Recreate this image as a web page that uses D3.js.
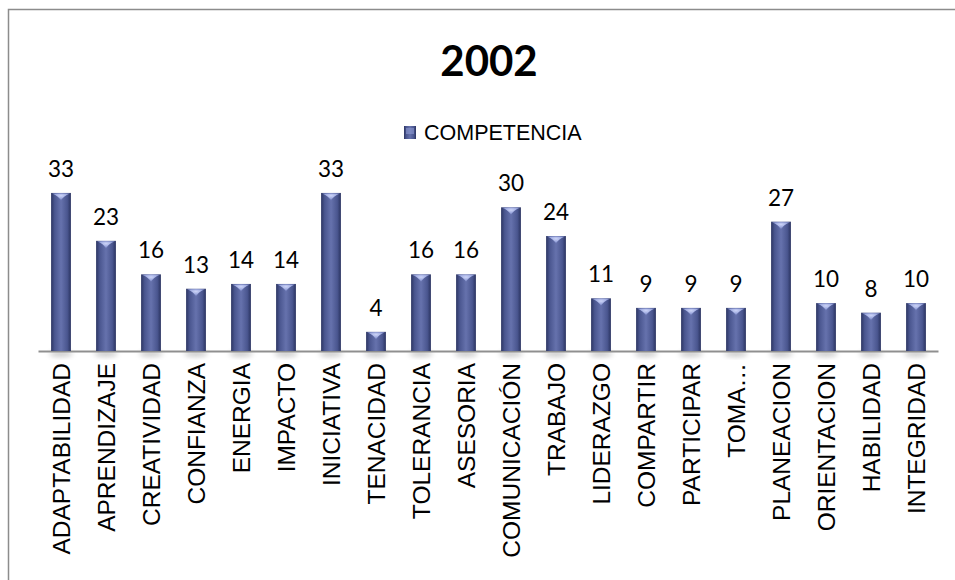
<!DOCTYPE html>
<html>
<head>
<meta charset="utf-8">
<script src="https://cdn.jsdelivr.net/npm/d3@7"></script>
<style>
  html, body { margin: 0; padding: 0; background: #ffffff; }
  svg { display: block; }
</style>
</head>
<body>
<svg id="chart" width="955" height="580"></svg>
<script>
const title = "2002";
const seriesName = "COMPETENCIA";
const categories = ["ADAPTABILIDAD","APRENDIZAJE","CREATIVIDAD","CONFIANZA","ENERGIA","IMPACTO","INICIATIVA","TENACIDAD","TOLERANCIA","ASESORIA","COMUNICACIÓN","TRABAJO","LIDERAZGO","COMPARTIR","PARTICIPAR","TOMA…","PLANEACION","ORIENTACION","HABILIDAD","INTEGRIDAD"];
const values = [33,23,16,13,14,14,33,4,16,16,30,24,11,9,9,9,27,10,8,10];
const yDomain = [0, 35];

const svg = d3.select("#chart");

// chart border
svg.append("rect").attr("x", 8.5).attr("y", 9.5).attr("width", 960).attr("height", 600)
  .attr("fill", "#fff").attr("stroke", "#8c8c8c").attr("stroke-width", 1.5);

const defs = svg.append("defs");
const g1 = defs.append("linearGradient").attr("id", "barGrad").attr("x1", "0%").attr("x2", "100%").attr("y1", "0%").attr("y2", "0%");
[["0%", "#2c3562"], ["18%", "#4a568f"], ["50%", "#6672ad"], ["82%", "#4a568f"], ["100%", "#2a3360"]]
  .forEach(([o, c]) => g1.append("stop").attr("offset", o).attr("stop-color", c));
const g2 = defs.append("radialGradient").attr("id", "topGrad").attr("cx", "50%").attr("cy", "30%").attr("r", "60%");
[["0%", "#ccd4f7"], ["60%", "#9ca8df"], ["100%", "#6a76b2"]]
  .forEach(([o, c]) => g2.append("stop").attr("offset", o).attr("stop-color", c));
const blur = defs.append("filter").attr("id", "shadowBlur").attr("x", "-50%").attr("y", "-50%").attr("width", "200%").attr("height", "200%");
blur.append("feGaussianBlur").attr("stdDeviation", 2.5);

const x = d3.scaleBand().domain(categories).range([38.5, 938.5]).paddingInner(0.56).paddingOuter(0.28);
const y = d3.scaleLinear().domain(yDomain).range([351, 351 - 35 * 4.79]);

// title
svg.append("text").attr("x", 489).attr("y", 76).attr("text-anchor", "middle")
  .attr("font-family", "Lato, 'Open Sans', sans-serif").attr("font-weight", "bold")
  .attr("font-size", 42).attr("fill", "#000").text(title);

// legend
const leg = svg.append("g");
leg.append("rect").attr("x", 404).attr("y", 126).attr("width", 12).attr("height", 13).attr("fill", "url(#barGrad)");
leg.append("rect").attr("x", 406).attr("y", 128).attr("width", 8).attr("height", 6).attr("fill", "#8e9ad2").attr("opacity", 0.6);
leg.append("text").attr("x", 424).attr("y", 140).attr("font-family", "'Liberation Sans', Arial, sans-serif")
  .attr("font-size", 21.5).attr("fill", "#000").text(seriesName);

// shadows under bars
svg.append("g").selectAll("ellipse").data(values).join("ellipse")
  .attr("cx", (d, i) => x(categories[i]) + x.bandwidth() / 2)
  .attr("cy", 354).attr("rx", x.bandwidth() / 2 + 2).attr("ry", 3)
  .attr("fill", "#9a9a9a").attr("opacity", 0.5).attr("filter", "url(#shadowBlur)");

// axis line
svg.append("line").attr("x1", 38.5).attr("x2", 938.5).attr("y1", 351.5).attr("y2", 351.5)
  .attr("stroke", "#8f8f8f").attr("stroke-width", 2);

// bars
const bars = svg.append("g");
bars.selectAll("rect").data(values).join("rect")
  .attr("x", (d, i) => x(categories[i]))
  .attr("y", d => y(d))
  .attr("width", x.bandwidth())
  .attr("height", d => y(0) - y(d))
  .attr("fill", "url(#barGrad)");
bars.selectAll("path.top").data(values).join("path").attr("class", "top")
  .attr("d", (d, i) => {
    const x0 = x(categories[i]), bw = x.bandwidth(), t = y(d);
    return `M${x0 + 1},${t + 0.5} L${x0 + bw - 1},${t + 0.5} Q${x0 + bw / 2 + 2},${t + 3} ${x0 + bw / 2},${t + 8} Q${x0 + bw / 2 - 2},${t + 3} ${x0 + 1},${t + 0.5} Z`;
  })
  .attr("fill", "url(#topGrad)");

// value labels
svg.append("g").selectAll("text").data(values).join("text")
  .attr("x", (d, i) => x(categories[i]) + x.bandwidth() / 2)
  .attr("y", d => y(d) - 16)
  .attr("text-anchor", "middle")
  .attr("font-family", "Lato, 'Open Sans', sans-serif")
  .attr("font-size", 22.5).attr("fill", "#000")
  .text(d => d);

// category labels (rotated)
svg.append("g").selectAll("text").data(categories).join("text")
  .attr("transform", c => `translate(${x(c) + x.bandwidth() / 2 + 9},363) rotate(-90)`)
  .attr("text-anchor", "end")
  .attr("font-family", "'Liberation Sans', Arial, sans-serif")
  .attr("font-size", 24.5).attr("fill", "#000")
  .text(c => c);
</script>
</body>
</html>
